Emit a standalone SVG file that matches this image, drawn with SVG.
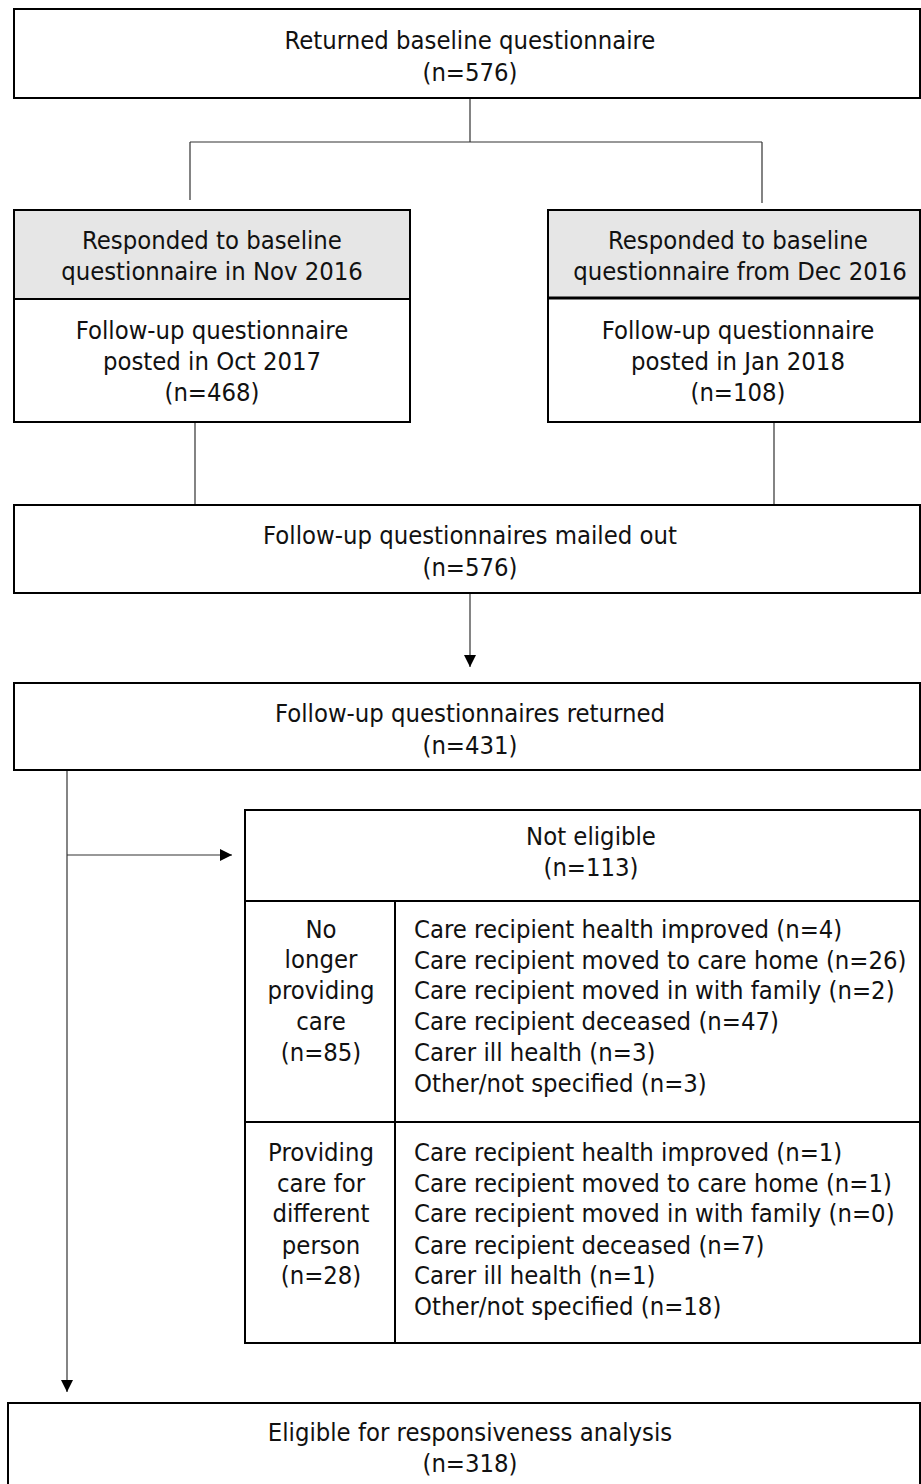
<svg xmlns="http://www.w3.org/2000/svg" width="921" height="1484" viewBox="0 0 921 1484">
<style>
.box{fill:#fff;stroke:#000;stroke-width:2}
.gray{fill:#e6e6e6;stroke:#000;stroke-width:2}
.ln{stroke:#333;stroke-width:1.2;fill:none}
text{font-family:"DejaVu Sans Condensed","DejaVu Sans",sans-serif;font-size:25.4px;fill:#111}
.c{text-anchor:middle}
</style>
<defs>
<marker id="ah" viewBox="0 0 10 10" refX="10" refY="5" markerWidth="12" markerHeight="12" markerUnits="userSpaceOnUse" orient="auto"><path d="M0,0 L10,5 L0,10 z" fill="#000"/></marker>
</defs>
<g id="connectors">
<path class="ln" d="M470,98 V142 M190,142 H762 M190,142 V200 M762,142 V203"/>
<path class="ln" d="M195,422 V505 M774,422 V505"/>
<path class="ln" d="M470,593 V667" marker-end="url(#ah)"/>
<path class="ln" d="M67,770 V1392" marker-end="url(#ah)"/>
<path class="ln" d="M67,855 H232" marker-end="url(#ah)"/>
</g>
<g id="n-baseline">
<rect class="box" x="14" y="9" width="906" height="89"/>
<text class="c" x="470" y="49">Returned baseline questionnaire</text>
<text class="c" x="470" y="81">(n=576)</text>
</g>
<g id="n-nov">
<rect class="gray" x="14" y="210" width="396" height="89"/>
<rect class="box" x="14" y="299" width="396" height="123"/>
<text class="c" x="212" y="249">Responded to baseline</text>
<text class="c" x="212" y="280">questionnaire in Nov 2016</text>
<text class="c" x="212" y="339">Follow-up questionnaire</text>
<text class="c" x="212" y="370">posted in Oct 2017</text>
<text class="c" x="212" y="401">(n=468)</text>
</g>
<g id="n-dec">
<rect class="gray" x="548" y="210" width="372" height="88"/>
<rect class="box" x="548" y="298" width="372" height="124"/>
<line x1="548" y1="298" x2="920" y2="298" stroke="#000" stroke-width="3"/>
<text class="c" x="738" y="249">Responded to baseline</text>
<text class="c" x="740" y="280">questionnaire from Dec 2016</text>
<text class="c" x="738" y="339">Follow-up questionnaire</text>
<text class="c" x="738" y="370">posted in Jan 2018</text>
<text class="c" x="738" y="401">(n=108)</text>
</g>
<g id="n-mailed">
<rect class="box" x="14" y="505" width="906" height="88"/>
<text class="c" x="470" y="544">Follow-up questionnaires mailed out</text>
<text class="c" x="470" y="576">(n=576)</text>
</g>
<g id="n-returned">
<rect class="box" x="14" y="683" width="906" height="87"/>
<text class="c" x="470" y="722">Follow-up questionnaires returned</text>
<text class="c" x="470" y="754">(n=431)</text>
</g>
<g id="n-noteligible">
<rect class="box" x="245" y="810" width="675" height="91"/>
<text class="c" x="591" y="845">Not eligible</text>
<text class="c" x="591" y="876">(n=113)</text>
</g>
<g id="n-nolonger">
<rect class="box" x="245" y="901" width="150" height="221"/>
<rect class="box" x="395" y="901" width="525" height="221"/>
<text class="c" x="321" y="938">No</text>
<text class="c" x="321" y="968">longer</text>
<text class="c" x="321" y="999">providing</text>
<text class="c" x="321" y="1030">care</text>
<text class="c" x="321" y="1061">(n=85)</text>
<text x="414" y="938">Care recipient health improved (n=4)</text>
<text x="414" y="969">Care recipient moved to care home (n=26)</text>
<text x="414" y="999">Care recipient moved in with family (n=2)</text>
<text x="414" y="1030">Care recipient deceased (n=47)</text>
<text x="414" y="1061">Carer ill health (n=3)</text>
<text x="414" y="1092">Other/not specified (n=3)</text>
</g>
<g id="n-different">
<rect class="box" x="245" y="1122" width="150" height="221"/>
<rect class="box" x="395" y="1122" width="525" height="221"/>
<text class="c" x="321" y="1161">Providing</text>
<text class="c" x="321" y="1192">care for</text>
<text class="c" x="321" y="1222">different</text>
<text class="c" x="321" y="1254">person</text>
<text class="c" x="321" y="1284">(n=28)</text>
<text x="414" y="1161">Care recipient health improved (n=1)</text>
<text x="414" y="1192">Care recipient moved to care home (n=1)</text>
<text x="414" y="1222">Care recipient moved in with family (n=0)</text>
<text x="414" y="1254">Care recipient deceased (n=7)</text>
<text x="414" y="1284">Carer ill health (n=1)</text>
<text x="414" y="1315">Other/not specified (n=18)</text>
</g>
<g id="n-eligible">
<rect class="box" x="8" y="1403" width="912" height="90"/>
<text class="c" x="470" y="1441">Eligible for responsiveness analysis</text>
<text class="c" x="470" y="1472">(n=318)</text>
</g>
</svg>
